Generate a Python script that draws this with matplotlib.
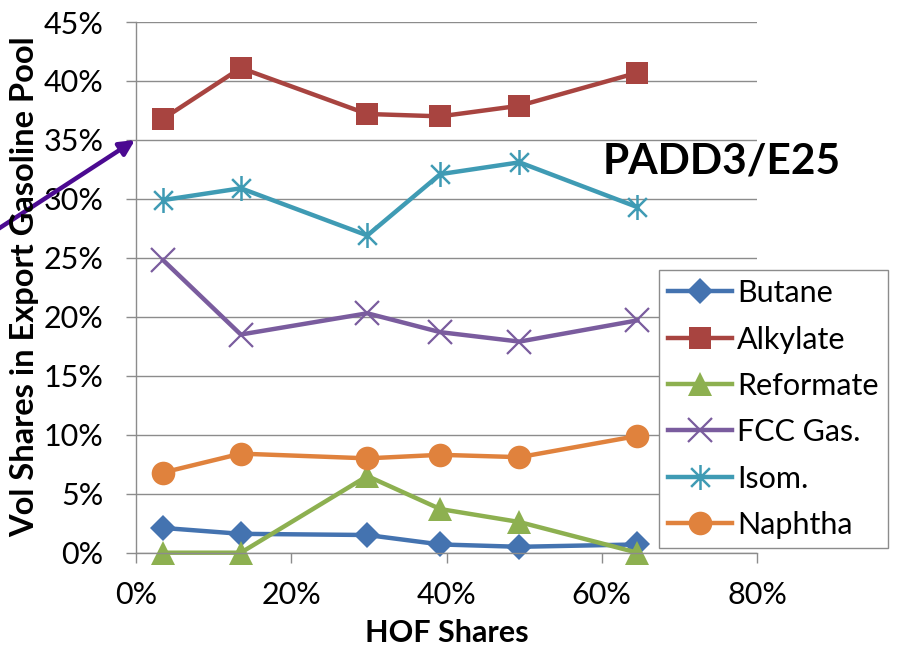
import matplotlib
matplotlib.use("Agg")
import matplotlib.pyplot as plt
from matplotlib.path import Path
from matplotlib.ticker import FuncFormatter

plt.rcParams['font.family'] = ['Lato', 'DejaVu Sans']

# ---- data ----
hof = [3.5, 13.5, 29.8, 39.2, 49.4, 64.6]
butane = [2.1, 1.6, 1.5, 0.7, 0.5, 0.7]
alkylate = [36.8, 41.1, 37.2, 37.0, 37.9, 40.7]
reformate = [0.0, 0.0, 6.5, 3.7, 2.6, 0.0]
fcc = [24.8, 18.5, 20.3, 18.7, 17.9, 19.7]
isom = [29.9, 30.9, 26.9, 32.1, 33.1, 29.3]
naphtha = [6.8, 8.4, 8.0, 8.3, 8.1, 9.9]
series_names = ['Butane', 'Alkylate', 'Reformate', 'FCC Gas.', 'Isom.', 'Naphtha']
x_ticks = [0, 20, 40, 60, 80]
y_ticks = [0, 5, 10, 15, 20, 25, 30, 35, 40, 45]

W, H = 897, 648
fig = plt.figure(figsize=(W / 100, H / 100), dpi=100)
ax = fig.add_axes([136 / W, 1 - 552.7 / H, (757 - 136) / W, (552.7 - 22) / H])

star = Path([(0, -1), (0, 1), (-0.75, -0.75), (0.75, 0.75), (-0.75, 0.75), (0.75, -0.75)],
            [Path.MOVETO, Path.LINETO, Path.MOVETO, Path.LINETO, Path.MOVETO, Path.LINETO])

styles = [
    (butane, '#4473B0', dict(marker='D', markersize=13, markeredgewidth=0)),
    (alkylate, '#A84440', dict(marker='s', markersize=16.5, markeredgewidth=0)),
    (reformate, '#8DB050', dict(marker='^', markersize=17, markeredgewidth=0)),
    (fcc, '#7A5C9E', dict(marker='x', markersize=17, markeredgewidth=1.6)),
    (isom, '#3F9BB4', dict(marker=star, markersize=18, markeredgewidth=1.8, fillstyle='none')),
    (naphtha, '#E0823D', dict(marker='o', markersize=17, markeredgewidth=0)),
]
for (vals, col, mk), name in zip(styles, series_names):
    ax.plot(hof, vals, color=col, lw=3.2, markerfacecolor=col, markeredgecolor=col,
            label=name, solid_joinstyle='round', clip_on=False, **mk)

ax.set_xlim(0, 80)
ax.set_ylim(0, 45)
ax.set_xticks(x_ticks)
ax.set_yticks(y_ticks)
ax.xaxis.set_major_formatter(FuncFormatter(lambda v, p: f"{v:.0f}%"))
ax.yaxis.set_major_formatter(FuncFormatter(lambda v, p: f"{v:.0f}%"))
ax.grid(axis='y', color='#8C8C8C', lw=1.0)
ax.set_axisbelow(True)
for s in ['top', 'right']:
    ax.spines[s].set_visible(False)
for s in ['left', 'bottom']:
    ax.spines[s].set_color('#8C8C8C')
    ax.spines[s].set_linewidth(1.0)
ax.tick_params(axis='both', direction='out', length=7.5, width=1.0, color='#8C8C8C',
               labelsize=22, labelcolor='black')
ax.tick_params(axis='y', pad=16)
ax.tick_params(axis='x', pad=13)

fig.text(25 / W, 1 - 287 / H, 'Vol Shares in Export Gasoline Pool', rotation=90,
         ha='center', va='center', fontsize=23.5, fontweight='bold')
fig.text(447 / W, 1 - 633 / H, 'HOF Shares', ha='center', va='center',
         fontsize=22, fontweight='bold')
fig.text(722 / W, 1 - 162 / H, 'PADD3/E25', ha='center', va='center',
         fontsize=30.5, fontweight='bold')

# arrow
ax.annotate('', xy=(135 / W, 1 - 140 / H), xycoords='figure fraction',
            xytext=(-5 / W, 1 - 231 / H), textcoords='figure fraction',
            arrowprops=dict(arrowstyle='-|>,head_length=0.9,head_width=0.45',
                            color='#4B0A91', lw=3.2, shrinkA=0, shrinkB=0))

leg = fig.legend(loc='upper left', bbox_to_anchor=(659 / W, 1 - 270 / H),
                 bbox_transform=fig.transFigure, fontsize=22, frameon=True,
                 fancybox=False, edgecolor='#8C8C8C', framealpha=1,
                 handlelength=2.1, handletextpad=0.15, labelspacing=0.6,
                 borderpad=0.3, borderaxespad=0, markerscale=1.0)
leg.get_frame().set_linewidth(1.0)

fig.savefig('out.png', dpi=100)
